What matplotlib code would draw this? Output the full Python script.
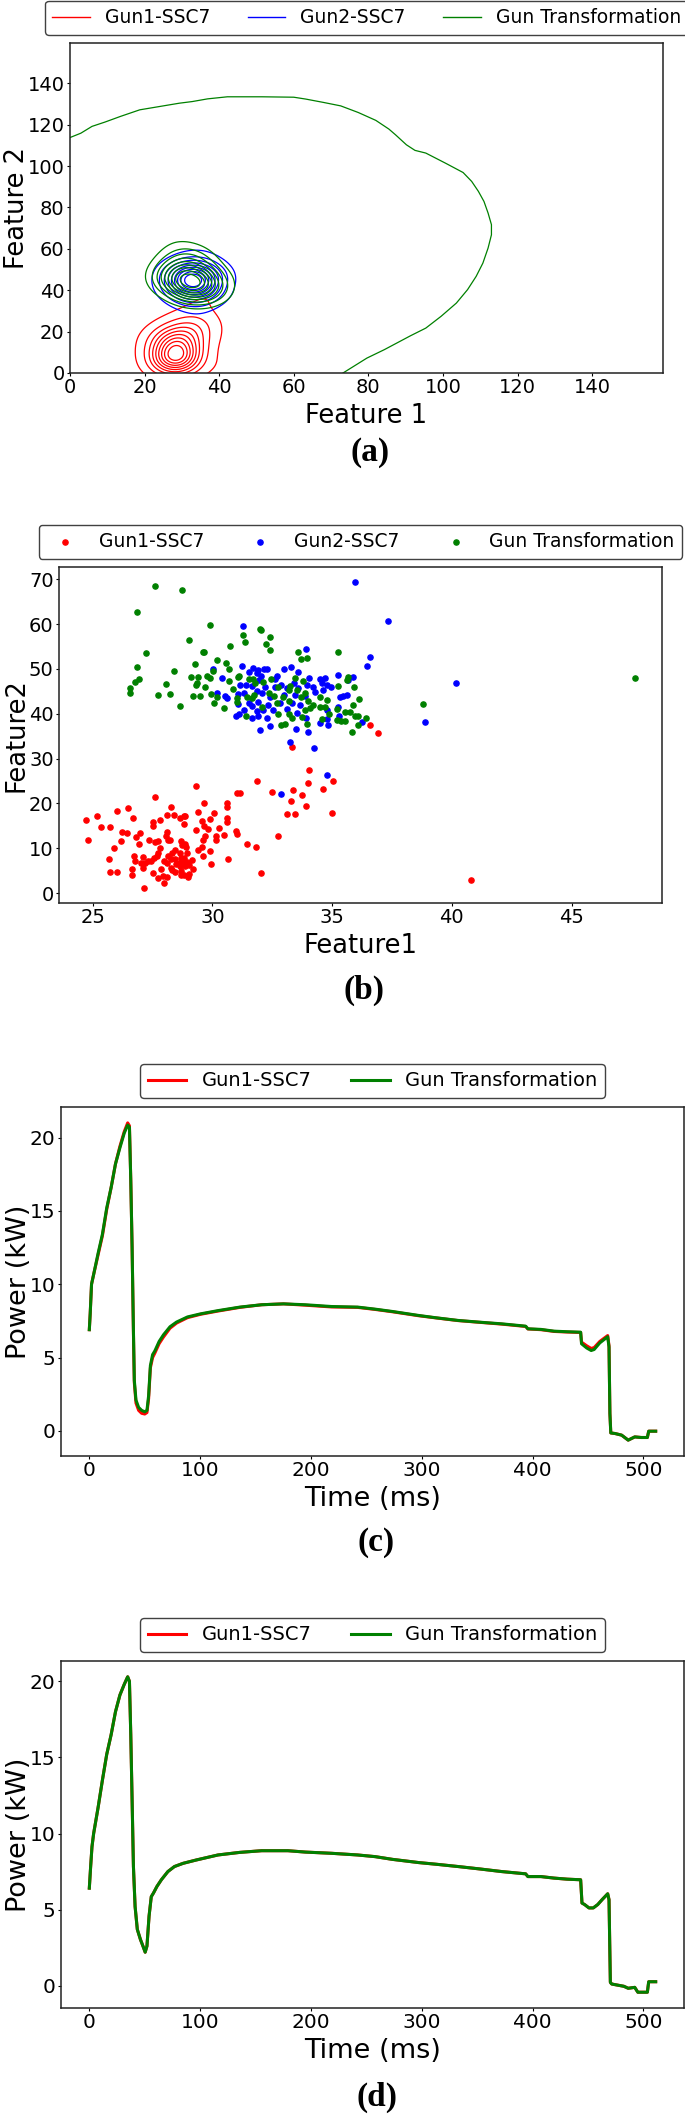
import numpy as np
import matplotlib
matplotlib.use("Agg")
import matplotlib.pyplot as plt
from matplotlib.lines import Line2D

# ---------------- data: scatter (panel b, also source of KDE in panel a) ----------------
RED_X = [29.32, 27.61, 29.63, 30.63, 28.26, 30.60, 26.0, 26.48, 29.40, 30.06, 25.2, 26.67, 28.11, 28.41,
         28.65, 28.8, 28.86, 24.74, 27.52, 27.8, 29.56, 29.89, 30.59, 30.61, 25.34, 25.74, 27.5, 28.83,
         29.63, 29.81, 30.27, 26.23, 26.45, 26.98, 28.09, 29.32, 26.81, 28.07, 29.68, 30.14, 30.50, 24.79,
         26.17, 27.36, 27.62, 27.75, 28.15, 28.23, 28.68, 29.60, 30.16, 26.95, 28.72, 28.87, 25.88, 27.82,
         28.43, 28.9, 29.40, 29.58, 29.88, 27.75, 28.32, 28.64, 28.94, 26.73, 27.11, 27.70, 28.15, 29.61,
         25.67, 27.55, 26.76, 27.45, 27.97, 28.26, 28.46, 28.69, 28.8, 29.14, 30.67, 27.01, 27.19, 27.31,
         28.09, 28.48, 28.61, 28.75, 28.93, 26.65, 27.11, 28.26, 28.65, 28.86, 29.19, 29.03, 29.95, 25.74,
         26.0, 27.52, 27.84, 28.32, 28.46, 28.68, 26.65, 27.75, 27.94, 28.11, 28.71, 28.82, 28.97, 29.01,
         28.0, 27.16,
         33.32, 34.04, 31.88, 34.01, 35.05, 32.51, 33.36, 34.60, 31.03, 31.16, 33.76, 33.27, 33.90, 33.12,
         33.45, 34.99, 30.99, 31.03, 32.73, 31.46, 31.84, 32.05, 36.57, 36.9, 40.79]
RED_Y = [23.92, 21.32, 20.13, 20.05, 19.23, 19.23, 18.27, 18.86, 18.12, 17.9, 17.08, 16.78, 17.3, 17.38,
         16.78, 17.15, 17.15, 16.19, 15.82, 16.26, 16.04, 16.41, 16.78, 15.82, 14.78, 14.63, 14.85, 15.45,
         14.92, 14.26, 14.48, 13.59, 13.29, 13.36, 13.59, 13.96, 12.55, 12.62, 12.62, 12.7, 12.92, 11.8,
         11.58, 11.8, 11.28, 11.58, 11.88, 11.73, 11.51, 11.73, 11.73, 10.99, 10.69, 10.99, 9.95, 9.95,
         9.65, 10.17, 9.65, 10.24, 9.35, 8.91, 8.83, 8.83, 8.83, 8.31, 8.09, 8.24, 8.16, 8.24,
         7.64, 7.87, 7.05, 7.05, 7.12, 7.64, 7.64, 7.87, 7.79, 7.35, 7.49, 6.6, 6.6, 7.12,
         6.6, 6.53, 6.68, 6.83, 6.83, 5.41, 5.64, 5.56, 6.08, 5.93, 5.27, 6.23, 6.45, 4.75,
         4.75, 4.52, 5.27, 5.19, 4.6, 4.89, 4.08, 3.41, 3.78, 3.63, 3.93, 4.08, 3.63, 4.3,
         2.22, 1.18,
         32.55, 27.49, 25.03, 24.52, 24.96, 22.58, 22.96, 23.25, 22.2, 22.29, 21.91, 20.51, 19.31, 17.61,
         17.68, 17.9, 13.89, 13.15, 12.62, 10.83, 10.16, 4.46, 37.45, 35.67, 2.89]

BLUE_X = [31.27, 30.04, 30.42, 31.23, 31.52, 31.71, 31.85, 31.92, 31.16, 31.39, 31.65, 30.21, 30.53, 30.63,
          31.09, 31.33, 31.85, 31.09, 31.51, 31.92, 31.30, 31.64, 31.85, 30.99, 31.13, 31.64, 31.92, 31.97,
          35.96, 37.34, 33.92, 36.60, 36.47, 35.23, 35.87, 35.65, 34.50, 34.70, 34.04, 33.59, 33.27, 33.01,
          32.30, 32.17, 32.62, 32.70, 32.03, 31.95, 32.87, 33.42, 33.94, 34.22, 34.57, 34.77, 34.95, 34.64,
          34.30, 33.59, 33.11, 32.62, 32.20, 32.06, 32.41, 32.97, 33.45, 33.87, 35.33, 35.47, 35.61, 32.34,
          32.83, 33.32, 33.66, 32.13, 32.55, 33.11, 35.24, 34.77, 32.27, 33.53, 33.91, 35.27, 34.78, 34.50,
          34.82, 32.41, 33.48, 34.01, 36.25, 33.25, 34.25, 34.79, 32.88, 40.18, 38.88]
BLUE_Y = [59.66, 50.0, 48.0, 50.6, 49.33, 50.15, 49.04, 49.78, 46.36, 46.43, 46.29, 44.58, 43.98, 43.54,
          44.43, 44.73, 45.17, 42.27, 42.5, 42.57, 40.86, 41.75, 40.71, 39.45, 40.04, 39.15, 39.38, 36.4,
          69.32, 60.63, 54.53, 52.6, 50.67, 48.66, 48.14, 47.55, 47.85, 47.92, 47.92, 49.41, 50.52, 50.08,
          49.93, 50.08, 47.7, 48.44, 48.44, 47.55, 46.43, 46.95, 46.43, 46.06, 46.81, 46.43, 45.91, 45.32,
          44.95, 45.69, 45.69, 46.06, 46.06, 44.58, 43.83, 44.21, 44.21, 43.98, 43.69, 43.98, 44.13, 41.98,
          42.35, 42.5, 41.98, 40.86, 40.86, 41.01, 41.6, 40.86, 39.15, 40.12, 39.0, 39.38, 38.78, 37.89,
          37.52, 37.15, 36.7, 36.03, 38.04, 33.66, 32.39, 26.22, 22.13, 46.88, 38.19]

GREEN_X = [27.61, 28.74, 26.84, 29.89, 31.97, 31.27, 29.01, 31.37, 30.74, 29.6, 29.67, 27.22, 30.21, 30.57,
           29.26, 26.84, 30.70, 28.39, 30.02, 29.11, 29.38, 29.77, 29.92, 26.93, 26.77, 31.12, 31.05, 31.55,
           31.71, 30.68, 29.35, 29.31, 28.05, 29.70, 26.56, 26.54, 30.85, 27.75, 28.21, 29.18, 29.49, 29.95,
           30.18, 31.02, 31.44, 31.74, 31.65, 30.07, 31.02, 28.64, 30.50, 31.39,
           32.01, 32.41, 32.24, 32.39, 33.56, 33.69, 33.96, 35.26, 35.65, 35.63, 35.93, 35.25, 32.45, 32.13,
           31.78, 33.45, 33.23, 33.77, 32.76, 33.20, 33.54, 33.69, 33.85, 32.37, 32.93, 32.59, 34.50, 34.78,
           34.01, 34.22, 34.50, 32.06, 32.69, 33.18, 33.87, 34.08, 34.71, 35.20, 34.87, 35.52, 35.89, 36.13,
           35.75, 35.96, 36.10, 36.41, 35.38, 35.52, 35.21, 34.57, 33.73, 33.18, 32.76, 33.32, 32.87, 33.04,
           33.94, 36.07, 35.82, 38.79, 47.63]
GREEN_Y = [68.58, 67.61, 62.63, 59.74, 58.84, 57.65, 56.39, 56.02, 55.13, 53.72, 53.87, 53.57, 51.93, 51.26,
           51.19, 50.37, 49.93, 49.56, 49.63, 48.14, 48.29, 48.44, 48.0, 47.85, 47.1, 48.44, 48.14, 47.7,
           47.7, 47.33, 46.95, 46.51, 46.66, 45.91, 45.69, 44.73, 45.54, 44.21, 44.43, 43.98, 43.98, 44.43,
           43.76, 43.54, 43.83, 44.28, 43.46, 42.5, 42.65, 41.68, 41.31, 39.52,
           58.7, 57.13, 55.65, 54.31, 53.87, 52.16, 52.38, 53.79, 48.29, 47.55, 45.99, 46.21, 47.77, 47.18,
           46.81, 47.92, 46.21, 47.33, 45.91, 45.32, 45.32, 43.69, 44.58, 44.58, 43.83, 43.98, 43.83, 43.09,
           42.87, 41.98, 41.6, 41.6, 42.35, 42.94, 40.86, 41.23, 41.6, 41.01, 39.97, 40.49, 41.98, 43.24,
           40.42, 39.38, 39.52, 39.15, 38.48, 38.48, 38.63, 38.93, 39.23, 39.97, 39.97, 39.0, 37.52, 37.74,
           37.74, 37.52, 36.03, 42.2, 47.92]

# outer "Gun Transformation" density contour
OUTER_X = [0, 2.9, 5.9, 9.4, 13.5, 18.7, 24.0, 29.3, 32.8, 36.9, 42.2, 51.5, 60.0, 63.2, 67.9, 72.6, 77.3,
           82.0, 85.5, 87.3, 90.2, 92.5, 95.4, 100.7, 105.4, 107.7, 109.5, 111.0, 112.1, 113.0, 113.0, 112.1,
           110.7, 108.9, 106.6, 103.6, 99.5, 95.4, 91.3, 84.3, 79.6, 73.2]
OUTER_Y = [113.8, 115.9, 119.2, 121.3, 124.0, 127.2, 128.8, 130.4, 131.2, 132.5, 133.5, 133.5, 133.3, 132.4,
           130.8, 129.1, 125.9, 122.1, 117.9, 115.1, 110.3, 107.6, 106.3, 101.4, 96.9, 92.6, 87.8, 82.9, 77.3,
           71.7, 66.8, 60.4, 53.1, 46.7, 40.3, 33.8, 27.4, 21.7, 18.0, 11.3, 7.2, 0.0]

# ---------------- data: power traces ----------------
C_TIME = [0, 0.8, 2, 4, 7.9, 11.8, 15.7, 19.7, 23.6, 27.6, 31.5, 34.6, 36.2, 37.4, 38.6, 39.8, 40.6, 42.1,
          44.5, 47.2, 50, 52, 53.5, 55.1, 57.1, 59.1, 63, 66.9, 72.8, 78.7, 88.6, 100.4, 116.1, 135.8, 155.5,
          175.2, 194.9, 218.5, 242.1, 257.9, 273.6, 297.2, 313, 332.7, 352.4, 372, 393.7, 395.7, 407.5,
          419.3, 431.1, 443.3, 444.1, 448.8, 452.8, 455.5, 460.6, 467.7, 468.9, 469.7, 470.5, 474.4, 480.3,
          486.2, 492.1, 498, 503.5, 504.7, 511]
C_TRANS = [6.9, 8.0, 10.0, 10.7, 12.1, 13.4, 15.2, 16.6, 18.2, 19.3, 20.3, 20.85, 20.7, 17.1, 12.5, 6.85,
           3.45, 2.1, 1.6, 1.4, 1.3, 1.4, 2.4, 4.45, 5.2, 5.45, 6.1, 6.55, 7.1, 7.42, 7.77, 7.98, 8.2, 8.44,
           8.6, 8.66, 8.6, 8.48, 8.44, 8.3, 8.14, 7.87, 7.71, 7.53, 7.41, 7.3, 7.14, 6.96, 6.92, 6.8, 6.76,
           6.73, 5.94, 5.65, 5.48, 5.55, 6.0, 6.42, 5.71, 1.18, -0.14, -0.18, -0.29, -0.63, -0.41, -0.45,
           -0.45, -0.02, -0.02]
C_GUN1 = [6.9, 8.0, 10.0, 10.7, 12.0, 13.3, 15.1, 16.6, 18.2, 19.4, 20.4, 21.0, 20.8, 17.1, 12.5, 6.7,
          3.3, 1.9, 1.4, 1.2, 1.15, 1.25, 2.2, 4.3, 5.0, 5.3, 5.95, 6.4, 7.0, 7.35, 7.72, 7.95, 8.17, 8.42,
          8.6, 8.66, 8.57, 8.45, 8.42, 8.28, 8.12, 7.85, 7.7, 7.52, 7.4, 7.28, 7.12, 6.95, 6.9, 6.78, 6.74,
          6.71, 6.05, 5.8, 5.62, 5.68, 6.1, 6.5, 5.8, 1.18, -0.14, -0.18, -0.29, -0.63, -0.41, -0.45,
          -0.45, -0.02, -0.02]

D_TIME = [0, 1.2, 2.4, 3.9, 7.9, 11.8, 15.7, 19.7, 23.6, 27.6, 31.5, 34.6, 36.2, 37.4, 38.6, 39.8, 41.3,
          43.3, 46.1, 48.4, 50.4, 52, 53.9, 55.9, 57.9, 61, 65, 70.9, 76.8, 84.6, 96.5, 116.1, 135.8, 155.5,
          179.1, 194.9, 218.5, 242.1, 257.9, 273.6, 297.2, 313, 332.7, 352.4, 372, 393.7, 395.7, 407.5,
          419.3, 431.1, 443.3, 444.5, 446.9, 450.8, 454.7, 458.7, 462.6, 467.7, 468.9, 470.1, 471.3, 476.4,
          482.3, 486.2, 492.1, 494.9, 503.5, 504.7, 511]
D_TRANS = [6.41, 7.83, 9.13, 10.0, 11.7, 13.5, 15.2, 16.5, 18.0, 19.1, 19.8, 20.3, 20.0, 16.5, 12.2, 7.83,
           5.2, 3.7, 3.04, 2.6, 2.2, 2.6, 4.57, 5.85, 6.09, 6.52, 6.96, 7.5, 7.83, 8.04, 8.26, 8.59, 8.76,
           8.87, 8.87, 8.78, 8.7, 8.59, 8.48, 8.3, 8.09, 7.98, 7.83, 7.67, 7.5, 7.35, 7.17, 7.17, 7.07, 7.0,
           6.96, 5.43, 5.33, 5.11, 5.11, 5.33, 5.65, 6.04, 5.65, 0.22, 0.11, 0.04, -0.04, -0.17, -0.11,
           -0.43, -0.43, 0.26, 0.26]
D_GUN1 = list(D_TRANS)

LABELS = ["Gun1-SSC7", "Gun2-SSC7", "Gun Transformation"]
COLORS = ["red", "blue", "green"]

# ---------------- figure ----------------
W, H = 685, 2114
fig = plt.figure(figsize=(W / 100, H / 100), dpi=100)
plt.rcParams["font.family"] = ["DejaVu Sans"]


def px_axes(left, top, right, bottom):
    return fig.add_axes([left / W, 1 - bottom / H, (right - left) / W, (bottom - top) / H])


def style(ax, tick_fs, ylab_x):
    ax.tick_params(labelsize=tick_fs, length=2.2, pad=1.6)
    ax.yaxis.set_label_coords(ylab_x, 0.5)
    for s in ax.spines.values():
        s.set_linewidth(1.1)
        s.set_color("#222222")


def legend(ax, handles, ncol, fs):
    leg = ax.legend(handles=handles, loc="lower center", bbox_to_anchor=(0.5, 1.0), ncol=ncol,
                    fontsize=fs, frameon=True, fancybox=True, borderaxespad=0.45)
    leg.get_frame().set_edgecolor("#111111")
    leg.get_frame().set_linewidth(1.0)
    return leg


def caption(ax, txt, y):
    bb = ax.get_position()
    fig.text(bb.x0 + bb.width / 2 + 4 / W, 1 - y / H, txt, ha="center", va="center",
             fontsize=24, fontweight="bold", family=["Liberation Serif", "DejaVu Serif"])


def kde_contours(ax, x, y, bw, color, thresh=0.05):
    gx = np.linspace(-15, 80, 320)
    gy = np.linspace(-45, 115, 420)
    X, Y = np.meshgrid(gx, gy)
    dens = np.zeros_like(X)
    for xi, yi in zip(x, y):
        dens += np.exp(-0.5 * (((X - xi) / bw[0]) ** 2 + ((Y - yi) / bw[1]) ** 2))
    vals = np.sort(dens.ravel())[::-1]
    cum = np.cumsum(vals) / vals.sum()
    iso = np.linspace(thresh, 1, 10)[:-1]
    idx = np.clip(np.searchsorted(cum, 1 - iso), 0, len(vals) - 1)
    lev = np.unique(vals[idx])
    ax.contour(X, Y, dens, levels=lev, colors=color, linewidths=0.9)


# ---- (a) ----
axa = px_axes(70, 43, 663, 373)
kde_contours(axa, RED_X, RED_Y, (4.0, 4.3), COLORS[0])
kde_contours(axa, BLUE_X, BLUE_Y, (4.5, 4.3), COLORS[1], thresh=0.1)
kde_contours(axa, GREEN_X, GREEN_Y, (4.8, 4.8), COLORS[2], thresh=0.12)
axa.plot(OUTER_X, OUTER_Y, color=COLORS[2], lw=0.9)
axa.set_xlim(0, 159)
axa.set_ylim(0, 159.5)
axa.set_xticks(np.arange(0, 141, 20))
axa.set_yticks(np.arange(0, 141, 20))
axa.set_xlabel("Feature 1", fontsize=18.5)
axa.set_ylabel("Feature 2", fontsize=18.5)
style(axa, 14, (30 - 70) / 593)
legend(axa, [Line2D([], [], color=c, lw=1.0, label=l) for c, l in zip(COLORS, LABELS)], 3, 13.5)
caption(axa, "(a)", 453)

# ---- (b) ----
axb = px_axes(59, 567, 662, 903)
axb.scatter(RED_X, RED_Y, s=14, color=COLORS[0], label=LABELS[0])
axb.scatter(BLUE_X, BLUE_Y, s=14, color=COLORS[1], label=LABELS[1])
axb.scatter(GREEN_X, GREEN_Y, s=14, color=COLORS[2], label=LABELS[2])
axb.set_xlabel("Feature1", fontsize=18.5)
axb.set_ylabel("Feature2", fontsize=18.5)
style(axb, 14, (30 - 59) / 603)
hb, lb = axb.get_legend_handles_labels()
legend(axb, hb, 3, 13.5)
caption(axb, "(b)", 990)

# ---- (c) ----
axc = px_axes(61, 1107, 684, 1456)
axc.plot(C_TIME, C_GUN1, color="red", lw=2.2, label="Gun1-SSC7")
axc.plot(C_TIME, C_TRANS, color="green", lw=2.2, label="Gun Transformation")
axc.set_xlabel("Time (ms)", fontsize=19.5)
axc.set_ylabel("Power (kW)", fontsize=19.5)
style(axc, 14.5, (32 - 61) / 623)
hc, lc = axc.get_legend_handles_labels()
legend(axc, hc, 2, 14)
caption(axc, "(c)", 1543)

# ---- (d) ----
axd = px_axes(61, 1661, 684, 2008)
axd.plot(D_TIME, D_GUN1, color="red", lw=2.2, label="Gun1-SSC7")
axd.plot(D_TIME, D_TRANS, color="green", lw=2.2, label="Gun Transformation")
axd.set_xlabel("Time (ms)", fontsize=19.5)
axd.set_ylabel("Power (kW)", fontsize=19.5)
style(axd, 14.5, (32 - 61) / 623)
hd, ld = axd.get_legend_handles_labels()
legend(axd, hd, 2, 14)
caption(axd, "(d)", 2097)

fig.savefig("out.png", dpi=100)
